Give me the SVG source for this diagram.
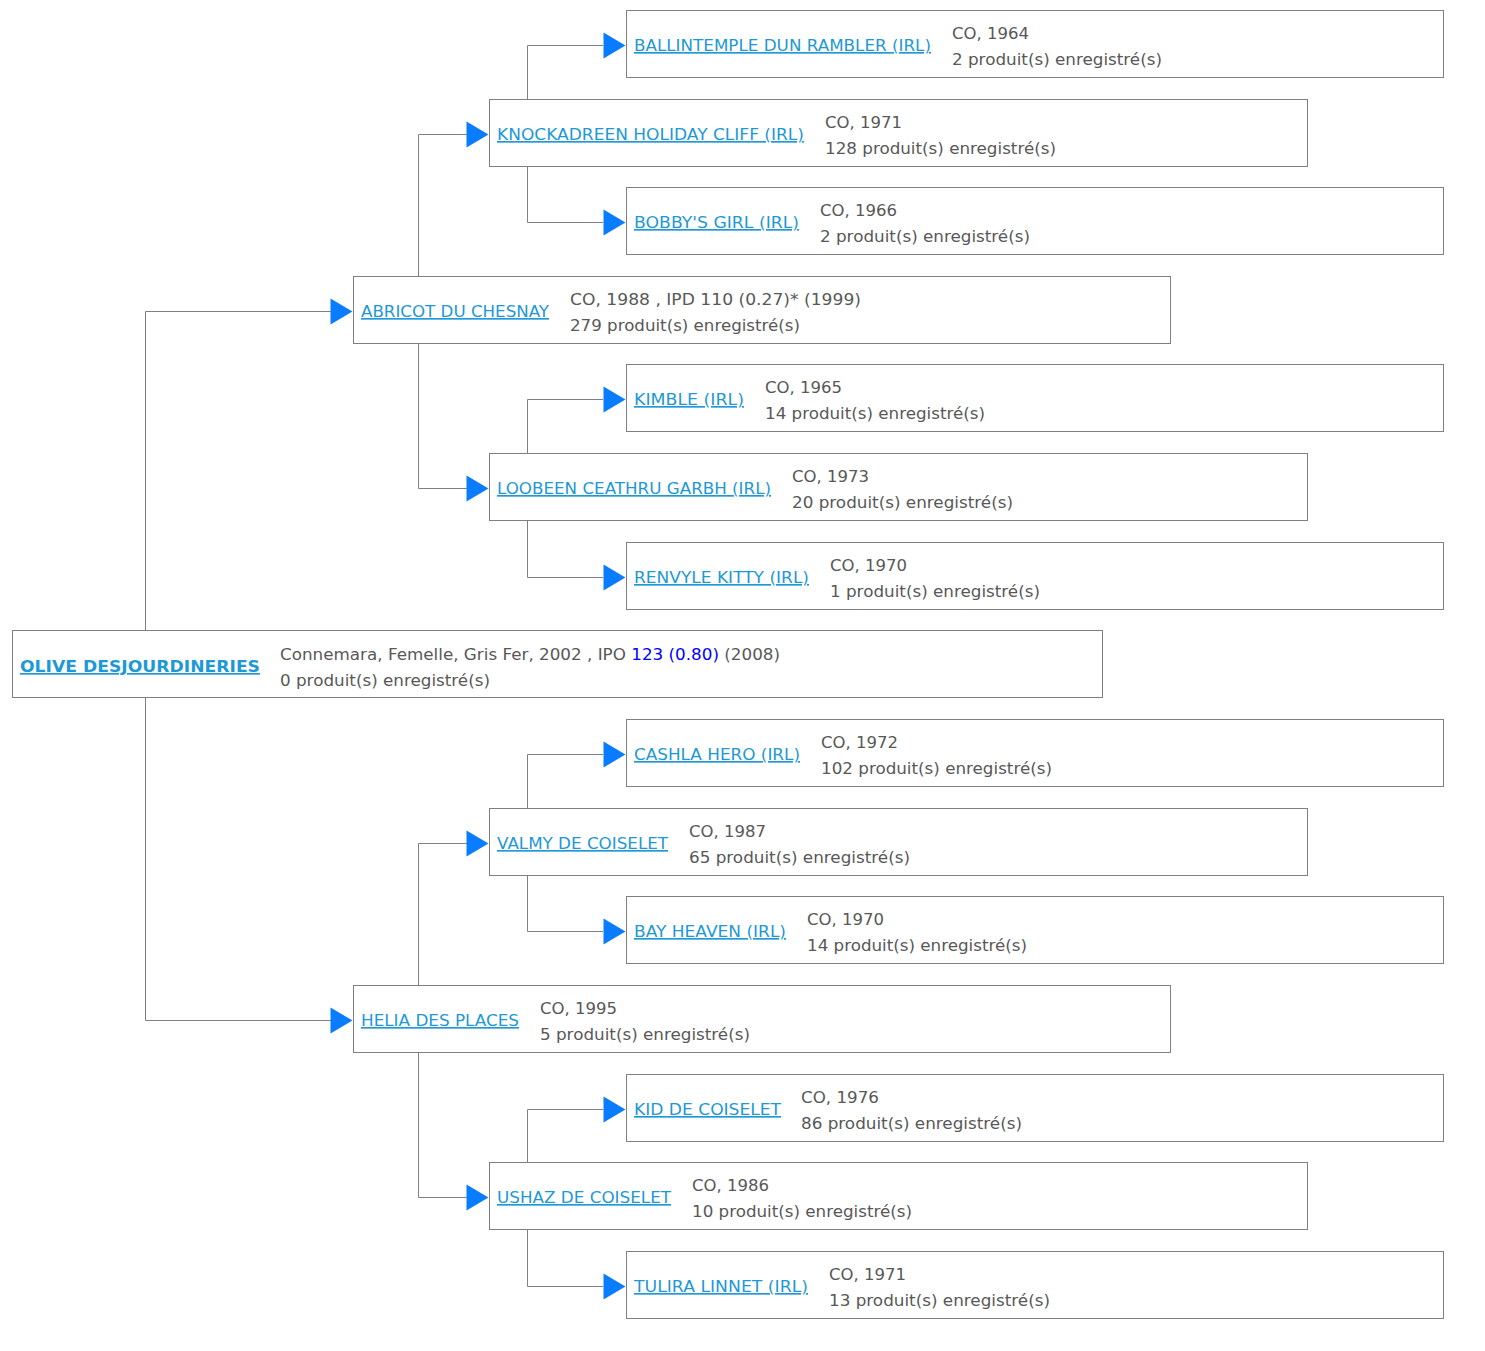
<svg xmlns="http://www.w3.org/2000/svg" xmlns:xlink="http://www.w3.org/1999/xlink" width="1485" height="1351" viewBox="0 0 1485 1351">
<style>
.box{fill:#fff;stroke:#808080;stroke-width:1}
.ln{fill:none;stroke:#808080;stroke-width:1}
.arr{fill:#0a7cff}
text{font-family:"DejaVu Sans","Verdana",sans-serif;font-size:16.6px}
.nm{fill:#1e98d6;text-decoration:underline}
.dt{fill:#585858}
.main{font-weight:bold}
</style>
<defs>
<path id="a" class="arr" d="M-23,-13 L-23,13 L-1,0 Z"/>
</defs>
<rect width="1485" height="1351" fill="#fff"/>
<g id="connectors">
<path class="ln" d="M145.5 630 V311.5 H331 M145.5 698 V1020.5 H331"/>
<path class="ln" d="M418.5 276 V134.5 H467 M418.5 343 V488.5 H467"/>
<path class="ln" d="M418.5 985 V843.5 H467 M418.5 1052 V1197.5 H467"/>
<path class="ln" d="M527.5 99 V45.5 H603 M527.5 166 V222.5 H603"/>
<path class="ln" d="M527.5 453 V399.5 H603 M527.5 520 V577.5 H603"/>
<path class="ln" d="M527.5 808 V754.5 H603 M527.5 875 V931.5 H603"/>
<path class="ln" d="M527.5 1162 V1109.5 H603 M527.5 1229 V1286.5 H603"/>
<use xlink:href="#a" x="353.5" y="311.5"/>
<use xlink:href="#a" x="353.5" y="1020.5"/>
<use xlink:href="#a" x="489.5" y="134.5"/>
<use xlink:href="#a" x="489.5" y="488.5"/>
<use xlink:href="#a" x="489.5" y="843.5"/>
<use xlink:href="#a" x="489.5" y="1197.5"/>
<use xlink:href="#a" x="626.5" y="45.5"/>
<use xlink:href="#a" x="626.5" y="222.5"/>
<use xlink:href="#a" x="626.5" y="399.5"/>
<use xlink:href="#a" x="626.5" y="577.5"/>
<use xlink:href="#a" x="626.5" y="754.5"/>
<use xlink:href="#a" x="626.5" y="931.5"/>
<use xlink:href="#a" x="626.5" y="1109.5"/>
<use xlink:href="#a" x="626.5" y="1286.5"/>
</g>
<g id="n-olive">
<rect class="box" x="12.5" y="630.5" width="1090" height="67"/>
<text class="nm main" x="20" y="672" textLength="240" lengthAdjust="spacingAndGlyphs">OLIVE DESJOURDINERIES</text>
<text class="dt" x="280" y="660" textLength="500" lengthAdjust="spacingAndGlyphs">Connemara, Femelle, Gris Fer, 2002 , IPO <tspan fill="#0000ff">123 (0.80)</tspan> (2008)</text>
<text class="dt" x="280" y="686" textLength="210" lengthAdjust="spacingAndGlyphs">0 produit(s) enregistré(s)</text>
</g>
<g id="n-abricot">
<rect class="box" x="353.5" y="276.5" width="817" height="67"/>
<text class="nm" x="361" y="317" textLength="188" lengthAdjust="spacingAndGlyphs">ABRICOT DU CHESNAY</text>
<text class="dt" x="570" y="305" textLength="291" lengthAdjust="spacingAndGlyphs">CO, 1988 , IPD 110 (0.27)* (1999)</text>
<text class="dt" x="570" y="331" textLength="230" lengthAdjust="spacingAndGlyphs">279 produit(s) enregistré(s)</text>
</g>
<g id="n-helia">
<rect class="box" x="353.5" y="985.5" width="817" height="67"/>
<text class="nm" x="361" y="1026" textLength="158" lengthAdjust="spacingAndGlyphs">HELIA DES PLACES</text>
<text class="dt" x="540" y="1014" textLength="77" lengthAdjust="spacingAndGlyphs">CO, 1995</text>
<text class="dt" x="540" y="1040" textLength="210" lengthAdjust="spacingAndGlyphs">5 produit(s) enregistré(s)</text>
</g>
<g id="n-knock">
<rect class="box" x="489.5" y="99.5" width="818" height="67"/>
<text class="nm" x="497" y="140" textLength="307" lengthAdjust="spacingAndGlyphs">KNOCKADREEN HOLIDAY CLIFF (IRL)</text>
<text class="dt" x="825" y="128" textLength="77" lengthAdjust="spacingAndGlyphs">CO, 1971</text>
<text class="dt" x="825" y="154" textLength="231" lengthAdjust="spacingAndGlyphs">128 produit(s) enregistré(s)</text>
</g>
<g id="n-loobeen">
<rect class="box" x="489.5" y="453.5" width="818" height="67"/>
<text class="nm" x="497" y="494" textLength="274" lengthAdjust="spacingAndGlyphs">LOOBEEN CEATHRU GARBH (IRL)</text>
<text class="dt" x="792" y="482" textLength="77" lengthAdjust="spacingAndGlyphs">CO, 1973</text>
<text class="dt" x="792" y="508" textLength="221" lengthAdjust="spacingAndGlyphs">20 produit(s) enregistré(s)</text>
</g>
<g id="n-valmy">
<rect class="box" x="489.5" y="808.5" width="818" height="67"/>
<text class="nm" x="497" y="849" textLength="171" lengthAdjust="spacingAndGlyphs">VALMY DE COISELET</text>
<text class="dt" x="689" y="837" textLength="77" lengthAdjust="spacingAndGlyphs">CO, 1987</text>
<text class="dt" x="689" y="863" textLength="221" lengthAdjust="spacingAndGlyphs">65 produit(s) enregistré(s)</text>
</g>
<g id="n-ushaz">
<rect class="box" x="489.5" y="1162.5" width="818" height="67"/>
<text class="nm" x="497" y="1203" textLength="174" lengthAdjust="spacingAndGlyphs">USHAZ DE COISELET</text>
<text class="dt" x="692" y="1191" textLength="77" lengthAdjust="spacingAndGlyphs">CO, 1986</text>
<text class="dt" x="692" y="1217" textLength="220" lengthAdjust="spacingAndGlyphs">10 produit(s) enregistré(s)</text>
</g>
<g id="n-ballintemple">
<rect class="box" x="626.5" y="10.5" width="817" height="67"/>
<text class="nm" x="634" y="51" textLength="297" lengthAdjust="spacingAndGlyphs">BALLINTEMPLE DUN RAMBLER (IRL)</text>
<text class="dt" x="952" y="39" textLength="77" lengthAdjust="spacingAndGlyphs">CO, 1964</text>
<text class="dt" x="952" y="65" textLength="210" lengthAdjust="spacingAndGlyphs">2 produit(s) enregistré(s)</text>
</g>
<g id="n-bobby">
<rect class="box" x="626.5" y="187.5" width="817" height="67"/>
<text class="nm" x="634" y="228" textLength="165" lengthAdjust="spacingAndGlyphs">BOBBY'S GIRL (IRL)</text>
<text class="dt" x="820" y="216" textLength="77" lengthAdjust="spacingAndGlyphs">CO, 1966</text>
<text class="dt" x="820" y="242" textLength="210" lengthAdjust="spacingAndGlyphs">2 produit(s) enregistré(s)</text>
</g>
<g id="n-kimble">
<rect class="box" x="626.5" y="364.5" width="817" height="67"/>
<text class="nm" x="634" y="405" textLength="110" lengthAdjust="spacingAndGlyphs">KIMBLE (IRL)</text>
<text class="dt" x="765" y="393" textLength="77" lengthAdjust="spacingAndGlyphs">CO, 1965</text>
<text class="dt" x="765" y="419" textLength="220" lengthAdjust="spacingAndGlyphs">14 produit(s) enregistré(s)</text>
</g>
<g id="n-renvyle">
<rect class="box" x="626.5" y="542.5" width="817" height="67"/>
<text class="nm" x="634" y="583" textLength="175" lengthAdjust="spacingAndGlyphs">RENVYLE KITTY (IRL)</text>
<text class="dt" x="830" y="571" textLength="77" lengthAdjust="spacingAndGlyphs">CO, 1970</text>
<text class="dt" x="830" y="597" textLength="210" lengthAdjust="spacingAndGlyphs">1 produit(s) enregistré(s)</text>
</g>
<g id="n-cashla">
<rect class="box" x="626.5" y="719.5" width="817" height="67"/>
<text class="nm" x="634" y="760" textLength="166" lengthAdjust="spacingAndGlyphs">CASHLA HERO (IRL)</text>
<text class="dt" x="821" y="748" textLength="77" lengthAdjust="spacingAndGlyphs">CO, 1972</text>
<text class="dt" x="821" y="774" textLength="231" lengthAdjust="spacingAndGlyphs">102 produit(s) enregistré(s)</text>
</g>
<g id="n-bay">
<rect class="box" x="626.5" y="896.5" width="817" height="67"/>
<text class="nm" x="634" y="937" textLength="152" lengthAdjust="spacingAndGlyphs">BAY HEAVEN (IRL)</text>
<text class="dt" x="807" y="925" textLength="77" lengthAdjust="spacingAndGlyphs">CO, 1970</text>
<text class="dt" x="807" y="951" textLength="220" lengthAdjust="spacingAndGlyphs">14 produit(s) enregistré(s)</text>
</g>
<g id="n-kid">
<rect class="box" x="626.5" y="1074.5" width="817" height="67"/>
<text class="nm" x="634" y="1115" textLength="147" lengthAdjust="spacingAndGlyphs">KID DE COISELET</text>
<text class="dt" x="801" y="1103" textLength="78" lengthAdjust="spacingAndGlyphs">CO, 1976</text>
<text class="dt" x="801" y="1129" textLength="221" lengthAdjust="spacingAndGlyphs">86 produit(s) enregistré(s)</text>
</g>
<g id="n-tulira">
<rect class="box" x="626.5" y="1251.5" width="817" height="67"/>
<text class="nm" x="634" y="1292" textLength="174" lengthAdjust="spacingAndGlyphs">TULIRA LINNET (IRL)</text>
<text class="dt" x="829" y="1280" textLength="77" lengthAdjust="spacingAndGlyphs">CO, 1971</text>
<text class="dt" x="829" y="1306" textLength="221" lengthAdjust="spacingAndGlyphs">13 produit(s) enregistré(s)</text>
</g>
</svg>
